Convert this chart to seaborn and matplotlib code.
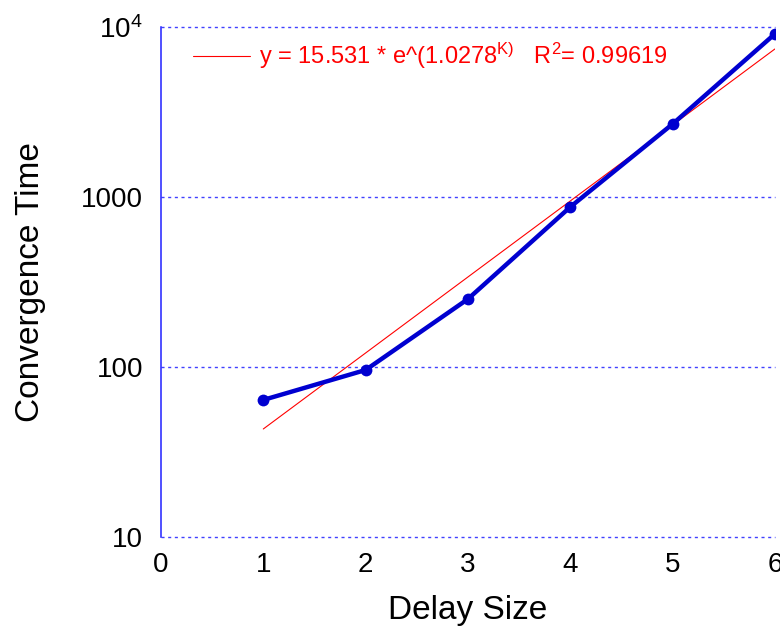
import numpy as np
import pandas as pd
import matplotlib
matplotlib.use("Agg")
import matplotlib.pyplot as plt
import seaborn as sns

# data
delay_size = [1, 2, 3, 4, 5, 6]
conv_time = [64, 96, 251, 873, 2685, 9100]
ytick_vals = [10, 100, 1000, 10000]
ytick_labels = ["10", "100", "1000", "$10^4$"]
fit_label = "y = 15.531 * e^(1.0278$^{K)}$   R$^2$= 0.99619"

sns.set_style("white")
plt.rcParams["font.family"] = ["Liberation Sans", "DejaVu Sans"]
plt.rcParams["mathtext.fontset"] = "custom"
plt.rcParams["mathtext.rm"] = "Liberation Sans"
plt.rcParams["mathtext.it"] = "Liberation Sans"
plt.rcParams["text.color"] = "black"
plt.rcParams["axes.labelcolor"] = "black"
plt.rcParams["xtick.color"] = "black"
plt.rcParams["ytick.color"] = "black"

df = pd.DataFrame({"k": delay_size, "t": conv_time})

# exponential trendline fitted on log scale
b, ln_a = np.polyfit(df["k"], np.log(df["t"]), 1)
df["fit"] = np.exp(ln_a) * np.exp(b * df["k"])

fig = plt.figure(figsize=(7.8, 6.29), dpi=100)
ax = fig.add_axes([0.2064, 0.1463, 0.787, 0.8108])

sns.lineplot(data=df, x="k", y="fit", ax=ax, color="red", lw=0.8, label=fit_label)
sns.lineplot(data=df, x="k", y="t", ax=ax, color="#0000d0", lw=3.2,
             marker="o", markersize=8.5, markeredgewidth=0, legend=False)

ax.set_yscale("log")
ax.set_xlim(0, 6)
ax.set_ylim(10, 10000)
ax.set_xticks(range(0, 7))
ax.set_yticks(ytick_vals)
ax.set_yticklabels(ytick_labels)
ax.minorticks_off()
ax.tick_params(length=0, labelsize=20)
ax.tick_params(axis="x", pad=11)
ax.tick_params(axis="y", pad=13)

ax.yaxis.grid(True, color="#4040ff", linestyle=(0, (2.2, 2.6)), lw=1)
ax.xaxis.grid(False)
for gl in ax.get_ygridlines():
    gl.set_clip_on(False)
for s in ["top", "right", "bottom"]:
    ax.spines[s].set_visible(False)
ax.spines["left"].set_color("#2020ff")
ax.spines["left"].set_linewidth(1.1)

ax.set_xlabel("Delay Size", fontsize=24, labelpad=12)
ax.set_ylabel("Convergence Time", fontsize=24, labelpad=25)

leg = ax.legend(loc="upper left", bbox_to_anchor=(0.025, 1.005), frameon=False,
                fontsize=17, labelcolor="red", handlelength=2.4, handletextpad=0.4,
                borderpad=0.2)

fig.savefig("out.png", dpi=100)
